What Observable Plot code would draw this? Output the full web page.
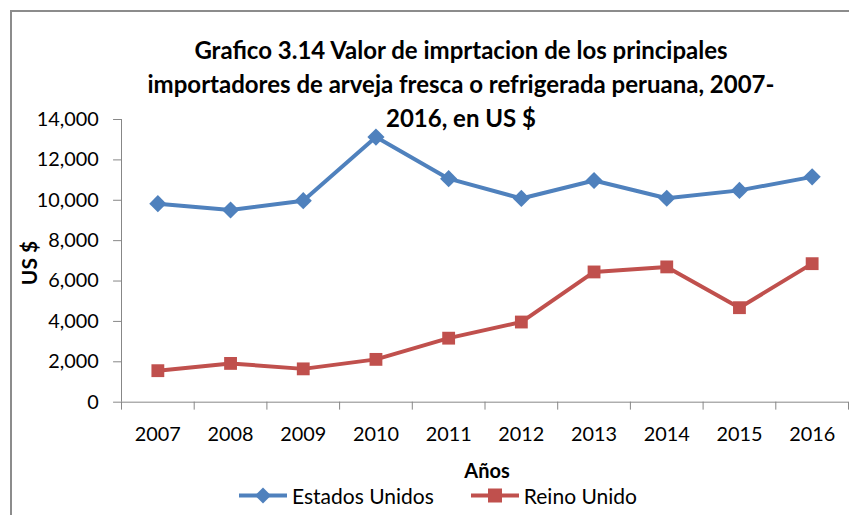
<!DOCTYPE html>
<html>
<head>
<meta charset="utf-8">
<script src="https://cdn.jsdelivr.net/npm/d3@7"></script>
<script src="https://cdn.jsdelivr.net/npm/@observablehq/plot@0.6"></script>
<style>
  html, body { margin: 0; padding: 0; background: #fff; overflow: hidden; }
  #wrap { position: relative; width: 849px; height: 515px; overflow: hidden; font-family: Lato, "Open Sans", sans-serif; color: #000; }
  #frame { position: absolute; left: 10px; top: 10px; width: 900px; height: 600px; border: 2px solid #8c8c8c; box-sizing: border-box; }
  #chart { position: absolute; left: 0; top: 0; }
  .t { position: absolute; white-space: nowrap; }
  #title { left: 461px; top: 33px; transform: translateX(-50%); text-align: center; font-weight: bold; font-size: 24px; line-height: 34px; }
  #ylab { left: 28px; top: 263px; transform: translate(-50%, -50%) rotate(-90deg); font-weight: bold; font-size: 21px; }
  #xlab { left: 487px; top: 470px; transform: translate(-50%, -50%); font-weight: bold; font-size: 20px; }
  #legend { left: 239px; top: 495px; transform: translateY(-50%); font-size: 21px; display: flex; align-items: center; }
  .key { display: inline-block; position: relative; width: 48px; height: 18px; margin-right: 5px; }
  .key .ln { position: absolute; left: 0; right: 0; top: 7px; height: 4px; }
  .key svg { position: absolute; left: 15px; top: 0; }
</style>
</head>
<body>
<div id="wrap">
  <div id="frame"></div>
  <div id="chart"></div>
  <div class="t" id="title"></div>
  <div class="t" id="ylab"></div>
  <div class="t" id="xlab"></div>
  <div class="t" id="legend"></div>
</div>
<script>
const titleLines = [
  "Grafico 3.14 Valor de imprtacion de los principales",
  "importadores de arveja fresca o refrigerada peruana, 2007-",
  "2016, en US $"
];
const yTitle = "US $";
const xTitle = "Años";
const seriesNames = ["Estados Unidos", "Reino Unido"];
const seriesColors = ["#4F81BD", "#C0504D"];
const years = [2007, 2008, 2009, 2010, 2011, 2012, 2013, 2014, 2015, 2016];
const estadosUnidos = [9830, 9520, 9980, 13130, 11070, 10090, 10980, 10100, 10490, 11160];
const reinoUnido = [1560, 1920, 1650, 2120, 3170, 3970, 6450, 6700, 4680, 6860];
const yTicks = [0, 2000, 4000, 6000, 8000, 10000, 12000, 14000];

const data = [
  ...years.map((y, i) => ({year: y, value: estadosUnidos[i], series: seriesNames[0]})),
  ...years.map((y, i) => ({year: y, value: reinoUnido[i], series: seriesNames[1]}))
];
const boundaries = [...years.map(y => y - 0.5), years[years.length - 1] + 0.5];
const axisGray = "#868686";

const chart = Plot.plot({
  width: 856,
  height: 515,
  marginLeft: 122,
  marginRight: 1,
  marginTop: 120,
  marginBottom: 110,
  style: {fontFamily: "Lato, 'Open Sans', sans-serif", fontSize: "20px", color: "#000", background: "transparent"},
  x: {type: "linear", domain: [boundaries[0], boundaries[boundaries.length - 1]], label: null},
  y: {domain: [0, 14000], label: null},
  color: {domain: seriesNames, range: seriesColors},
  marks: [
    Plot.ruleX([boundaries[0]], {stroke: axisGray, strokeWidth: 1}),
    Plot.ruleY([0], {stroke: axisGray, strokeWidth: 1}),
    Plot.axisY({ticks: yTicks, tickSize: 8, tickPadding: 15, stroke: axisGray, fill: "#000", fontSize: 20, label: null, tickFormat: d3.format(",")}),
    Plot.axisX({ticks: boundaries, tickSize: 8, stroke: axisGray, label: null, tickFormat: () => ""}),
    Plot.axisX({ticks: years, tickSize: 0, tickPadding: 25, fill: "#000", fontSize: 20, label: null, tickFormat: d => String(d)}),
    Plot.line(data, {x: "year", y: "value", z: "series", stroke: "series", strokeWidth: 4}),
    Plot.dot(data.filter(d => d.series === seriesNames[0]), {x: "year", y: "value", symbol: "diamond2", r: 7.8, fill: seriesColors[0], stroke: "none"}),
    Plot.dot(data.filter(d => d.series === seriesNames[1]), {x: "year", y: "value", symbol: "square", r: 7.3, fill: seriesColors[1], stroke: "none"})
  ]
});
document.getElementById("chart").appendChild(chart);

document.getElementById("title").innerHTML = titleLines.join("<br>");
document.getElementById("ylab").textContent = yTitle;
document.getElementById("xlab").textContent = xTitle;

const legend = document.getElementById("legend");
seriesNames.forEach((name, i) => {
  const item = document.createElement("span");
  item.style.display = "inline-flex";
  item.style.alignItems = "center";
  item.style.marginRight = i === 0 ? "37px" : "0";
  const key = document.createElement("span");
  key.className = "key";
  const marker = i === 0
    ? `<svg width="18" height="18"><path d="M9,1L17,9L9,17L1,9Z" fill="${seriesColors[i]}"/></svg>`
    : `<svg width="18" height="18"><rect x="2" y="2" width="14" height="14" fill="${seriesColors[i]}"/></svg>`;
  key.innerHTML = `<span class="ln" style="background:${seriesColors[i]}"></span>${marker}`;
  const label = document.createElement("span");
  label.textContent = name;
  item.appendChild(key);
  item.appendChild(label);
  legend.appendChild(item);
});
</script>
</body>
</html>
